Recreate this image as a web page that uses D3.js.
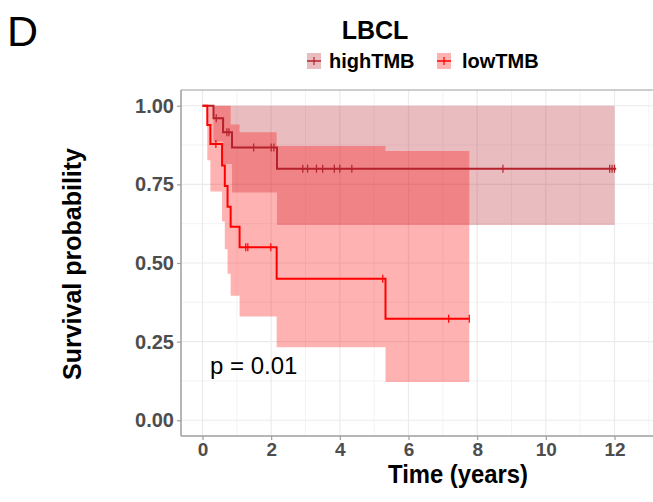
<!DOCTYPE html>
<html>
<head>
<meta charset="utf-8">
<script src="https://cdn.jsdelivr.net/npm/d3@7"></script>
<style>
  html, body { margin: 0; padding: 0; background: #fff; }
  svg { display: block; font-family: "Liberation Sans", Arial, sans-serif; }
</style>
</head>
<body>
<svg id="chart" width="653" height="502"></svg>
<script>
// ---------------- DATA ----------------
const groups = ["highTMB", "lowTMB"];
const xTicks = [0, 2, 4, 6, 8, 10, 12];
const yTicks = [0, 0.25, 0.5, 0.75, 1.0];
const yTickLabels = ["0.00", "0.25", "0.50", "0.75", "1.00"];

// highTMB Kaplan-Meier steps
const highTime = [0, 0.32, 0.60, 0.86, 2.17, 12.05];
const highSurv = [1.0, 0.96, 0.916, 0.867, 0.80, 0.80];
const highCensor = [0.40, 0.71, 0.77, 1.49, 2.00, 2.08, 2.92, 3.06, 3.32, 3.50, 3.84, 4.00, 4.35, 8.75, 11.86, 11.93, 12.00];
// highTMB confidence band
const highBandTime = [0.32, 0.60, 0.86, 2.17, 12.00];
const highLower = [0.886, 0.815, 0.724, 0.621, 0.621];
const highUpper = [1.0, 1.0, 1.0, 1.0, 1.0];

// lowTMB Kaplan-Meier steps
const lowTime = [0, 0.14, 0.23, 0.57, 0.65, 0.73, 0.82, 1.08, 2.16, 5.33, 7.77];
const lowSurv = [1.0, 0.939, 0.878, 0.81, 0.745, 0.679, 0.615, 0.55, 0.45, 0.323, 0.323];
const lowCensor = [0.39, 1.26, 1.32, 1.99, 5.25, 7.17, 7.77];
// lowTMB confidence band
const lowBandTime = [0.14, 0.23, 0.57, 0.65, 0.73, 0.82, 1.08, 2.16, 5.33, 7.77];
const lowLower = [0.827, 0.727, 0.632, 0.544, 0.466, 0.396, 0.33, 0.232, 0.122, 0.122];
const lowUpper = [1.0, 1.0, 1.0, 1.0, 1.0, 0.94, 0.916, 0.872, 0.856, 0.856];

const colors = { highTMB: "#B5222C", lowTMB: "#FF0000" };
const pValueText = "p = 0.01";

// ---------------- CHART ----------------
const svg = d3.select("#chart");
const panel = { left: 181, right: 654, top: 90, bottom: 436 };

const x = d3.scaleLinear().domain([-0.626, 13.15]).range([panel.left, panel.right]);
const y = d3.scaleLinear().domain([-0.05, 1.05]).range([panel.bottom, panel.top]);

svg.append("rect").attr("width", 653).attr("height", 502).attr("fill", "#fff");

// minor grid
const xMinor = d3.range(1, 14, 2);
const yMinor = [0.125, 0.375, 0.625, 0.875];
const grid = svg.append("g");
grid.selectAll(".vminor").data(xMinor).enter().append("line")
  .attr("x1", d => x(d)).attr("x2", d => x(d))
  .attr("y1", panel.top).attr("y2", panel.bottom)
  .attr("stroke", "#F3F3F3").attr("stroke-width", 1);
grid.selectAll(".hminor").data(yMinor).enter().append("line")
  .attr("x1", panel.left).attr("x2", panel.right)
  .attr("y1", d => y(d)).attr("y2", d => y(d))
  .attr("stroke", "#F3F3F3").attr("stroke-width", 1);
// major grid
grid.selectAll(".vmajor").data(xTicks).enter().append("line")
  .attr("x1", d => x(d)).attr("x2", d => x(d))
  .attr("y1", panel.top).attr("y2", panel.bottom)
  .attr("stroke", "#EBEBEB").attr("stroke-width", 1.2);
grid.selectAll(".hmajor").data(yTicks).enter().append("line")
  .attr("x1", panel.left).attr("x2", panel.right)
  .attr("y1", d => y(d)).attr("y2", d => y(d))
  .attr("stroke", "#EBEBEB").attr("stroke-width", 1.2);

// bands
function bandData(t, lo, up) { return t.map((d, i) => ({ t: d, lo: lo[i], up: up[i] })); }
const area = d3.area().curve(d3.curveStepAfter)
  .x(d => x(d.t)).y0(d => y(d.lo)).y1(d => y(d.up));

svg.append("path").datum(bandData(highBandTime, highLower, highUpper))
  .attr("d", area).attr("fill", colors.highTMB).attr("fill-opacity", 0.3);
svg.append("path").datum(bandData(lowBandTime, lowLower, lowUpper))
  .attr("d", area).attr("fill", colors.lowTMB).attr("fill-opacity", 0.3);

// KM lines
const line = d3.line().curve(d3.curveStepAfter).x(d => x(d.t)).y(d => y(d.s));
function km(t, s) { return t.map((d, i) => ({ t: d, s: s[i] })); }
function survAt(t, times, surv) {
  let v = surv[0];
  for (let i = 0; i < times.length; i++) if (times[i] <= t) v = surv[i];
  return v;
}

[["highTMB", highTime, highSurv, highCensor], ["lowTMB", lowTime, lowSurv, lowCensor]].forEach(([g, t, s, c]) => {
  svg.append("path").datum(km(t, s))
    .attr("d", line).attr("fill", "none")
    .attr("stroke", colors[g]).attr("stroke-width", 2);
  svg.append("g").selectAll("line").data(c).enter().append("line")
    .attr("x1", d => x(d)).attr("x2", d => x(d))
    .attr("y1", d => y(survAt(d, t, s)) - 4).attr("y2", d => y(survAt(d, t, s)) + 4)
    .attr("stroke", colors[g]).attr("stroke-width", 1.2);
});

// axes
const axisColor = "#9E9E9E";
const xAxis = svg.append("g").attr("transform", `translate(0,${panel.bottom})`)
  .call(d3.axisBottom(x).tickValues(xTicks).tickSize(4).tickPadding(3).tickFormat(d3.format("d")));
const yAxis = svg.append("g").attr("transform", `translate(${panel.left},0)`)
  .call(d3.axisLeft(y).tickValues(yTicks).tickSize(4).tickPadding(3).tickFormat((d, i) => yTickLabels[i]));
[xAxis, yAxis].forEach(a => {
  a.select(".domain").remove();
  a.selectAll(".tick line").attr("stroke", axisColor).attr("stroke-width", 1.2);
  a.selectAll(".tick text").attr("fill", "#4D4D4D")
    .style("font-size", "20px").style("font-weight", "bold")
    .style("font-family", "'Liberation Sans', Arial, sans-serif");
});
xAxis.selectAll(".tick text").attr("dy", "0.68em").style("font-size", "19px");
// axis lines / top border
svg.append("line").attr("x1", panel.left).attr("x2", panel.left)
  .attr("y1", panel.top).attr("y2", panel.bottom).attr("stroke", axisColor).attr("stroke-width", 1.5);
svg.append("line").attr("x1", panel.left).attr("x2", panel.right)
  .attr("y1", panel.bottom).attr("y2", panel.bottom).attr("stroke", axisColor).attr("stroke-width", 1.5);
svg.append("line").attr("x1", panel.left).attr("x2", panel.right)
  .attr("y1", panel.top).attr("y2", panel.top).attr("stroke", axisColor).attr("stroke-width", 1.2);

// p value
svg.append("text").attr("x", x(0.22)).attr("y", y(0.148))
  .attr("font-size", 24).attr("fill", "#000").text(pValueText);

// axis titles
svg.append("text").attr("x", 458).attr("y", 483)
  .attr("text-anchor", "middle").attr("font-size", 26).attr("font-weight", "bold")
  .attr("textLength", 140).attr("lengthAdjust", "spacingAndGlyphs")
  .text("Time (years)");
svg.append("text").attr("transform", "translate(81,264) rotate(-90)")
  .attr("text-anchor", "middle").attr("font-size", 25).attr("font-weight", "bold")
  .text("Survival probability");

// title and panel letter
svg.append("text").attr("x", 375).attr("y", 39)
  .attr("text-anchor", "middle").attr("font-size", 25).attr("font-weight", "bold")
  .text("LBCL");
svg.append("text").attr("x", 7).attr("y", 46)
  .attr("font-size", 43).text("D");

// legend
const legend = svg.append("g");
const legendItems = [
  { g: "highTMB", kx: 307, tx: 329 },
  { g: "lowTMB", kx: 437, tx: 462 }
];
const ly = 61;
legendItems.forEach(it => {
  legend.append("rect").attr("x", it.kx).attr("y", ly - 8).attr("width", 14).attr("height", 16)
    .attr("fill", colors[it.g]).attr("fill-opacity", 0.3);
  legend.append("line").attr("x1", it.kx).attr("x2", it.kx + 14).attr("y1", ly).attr("y2", ly)
    .attr("stroke", colors[it.g]).attr("stroke-width", 1.5);
  legend.append("line").attr("x1", it.kx + 7).attr("x2", it.kx + 7).attr("y1", ly - 4).attr("y2", ly + 4)
    .attr("stroke", colors[it.g]).attr("stroke-width", 1.2);
  legend.append("text").attr("x", it.tx).attr("y", ly + 7)
    .attr("font-size", 20).attr("font-weight", "bold").text(it.g);
});
</script>
</body>
</html>
